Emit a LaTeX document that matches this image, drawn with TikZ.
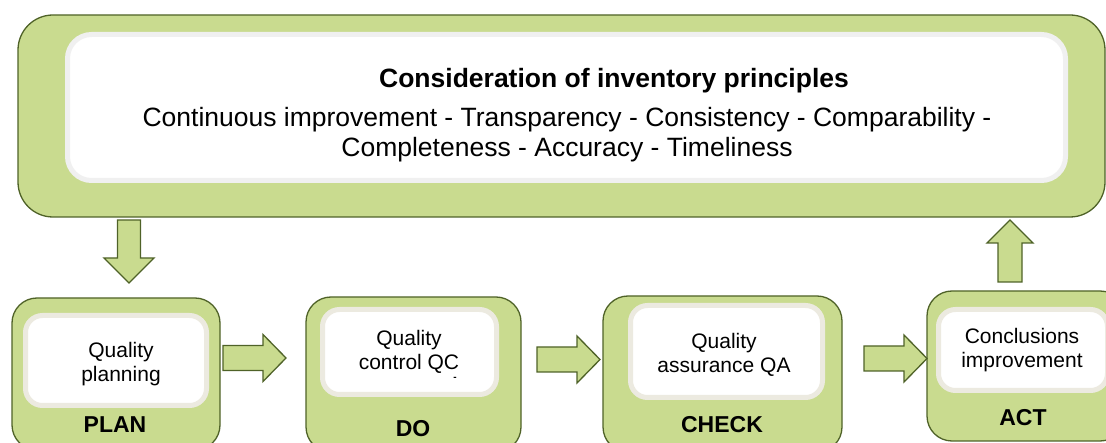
\documentclass[tikz,border=0pt]{standalone}
\usepackage{fontspec}
\setmainfont{Liberation Sans}
\usetikzlibrary{calc}
\definecolor{leaf}{HTML}{C9DB8F}
\definecolor{leafdark}{HTML}{4F6228}
\definecolor{rimgray}{HTML}{F0F0F0}
\definecolor{rimtan}{HTML}{ECEAE0}
\begin{document}
\begin{tikzpicture}[x=1pt,y=-1pt,
  panel/.style={draw=leafdark, fill=leaf, line width=1.3pt, inner sep=0pt, outer sep=0pt},
  card/.style={draw=#1, fill=white, line width=5pt, inner sep=0pt, outer sep=0pt},
  blockarrow/.style={draw=leafdark, fill=leaf, line width=1.3pt, line join=miter},
  bigtext/.style={font=\fontsize{26.5}{30}\selectfont, anchor=base, align=center, inner sep=0pt},
  stagetext/.style={font=\fontsize{21}{24}\selectfont, anchor=base, align=center, inner sep=0pt},
  stagelabel/.style={font=\bfseries\fontsize{23}{26}\selectfont, anchor=base, inner sep=0pt},
  rblock/.pic={\path[blockarrow] (0,-12.5) -- (40,-12.5) -- (40,-23.5) -- (63,0)
      -- (40,23.5) -- (40,12.5) -- (0,12.5) -- cycle;},
  dblock/.pic={\path[blockarrow] (-11.5,0) -- (11.5,0) -- (11.5,38) -- (25,38) -- (0,63)
      -- (-25,38) -- (-11.5,38) -- cycle;},
  ublock/.pic={\path[blockarrow] (-12,0) -- (12,0) -- (12,-39) -- (23,-39) -- (0,-62)
      -- (-23,-39) -- (-12,-39) -- cycle;}
]
\useasboundingbox (0,0) rectangle (1106,443);
\clip (0,0) rectangle (1106,443);

% principles frame
\node[panel, rounded corners=35pt, minimum width=1087pt, minimum height=202pt] (frame) at (561.5,116) {};
\node[card=rimgray, rounded corners=24pt, minimum width=998pt, minimum height=146pt] (framein) at (566.5,107.5) {};
\node[bigtext, font=\bfseries\fontsize{26.5}{30}\selectfont] (title) at (614,88) {Consideration of inventory principles};
% the base anchor of a multi-line node sits on its last line
\node[bigtext] (principles) at (567,157) {Continuous improvement - Transparency - Consistency - Comparability -\\Completeness - Accuracy - Timeliness};

% PDCA stages
\node[panel, rounded corners=25pt, minimum width=208pt, minimum height=152pt] (plan) at (116,374) {};
\node[card=rimtan, rounded corners=17pt, minimum width=181pt, minimum height=90pt] (planin) at (116,360.5) {};
\node[stagetext] (plantext) at (121,382) {Quality\\planning};
\node[stagelabel] (planlabel) at (115,433) {PLAN};

\node[panel, rounded corners=25pt, minimum width=215pt, minimum height=155pt] (do) at (413.5,374.5) {};
\node[card=rimtan, rounded corners=17pt, minimum width=174pt, minimum height=85pt] (doin) at (409.5,352) {};
\node[stagetext] (dotext) at (409,370) {Quality\\control QC};
\node[font=\bfseries\fontsize{10}{12}\selectfont, anchor=base, inner sep=0pt] (dodash) at (455,381) {-};
\node[stagelabel] (dolabel) at (413,436) {DO};

\node[panel, rounded corners=25pt, minimum width=239pt, minimum height=156pt] (check) at (722.5,374) {};
\node[card=rimtan, rounded corners=17pt, minimum width=192pt, minimum height=92pt] (checkin) at (726.5,351.5) {};
\node[stagetext] (checktext) at (724,373) {Quality\\assurance QA};
\node[stagelabel] (checklabel) at (722,432) {CHECK};

\node[panel, rounded corners=25pt, minimum width=198pt, minimum height=150pt] (act) at (1026,366) {};
\node[card=rimtan, rounded corners=17pt, minimum width=169pt, minimum height=81pt] (actin) at (1023,350) {};
\node[stagetext] (acttext) at (1022,368) {Conclusions\\improvement};
\node[stagelabel] (actlabel) at (1023,425) {ACT};

% block arrows between the stages
\coordinate (downtail) at (frame.south -| plan.north);
\coordinate (uptail) at (act.north);
\pic at ($(downtail)+(13,3)$) {dblock};
\pic at ($(plan.east)+(3,-16)$) {rblock};
\pic at ($(do.east)+(16,-15)$) {rblock};
\pic at ($(check.east)+(22,-15.5)$) {rblock};
\pic at ($(uptail)+(-16,-9)$) {ublock};
\end{tikzpicture}
\end{document}
